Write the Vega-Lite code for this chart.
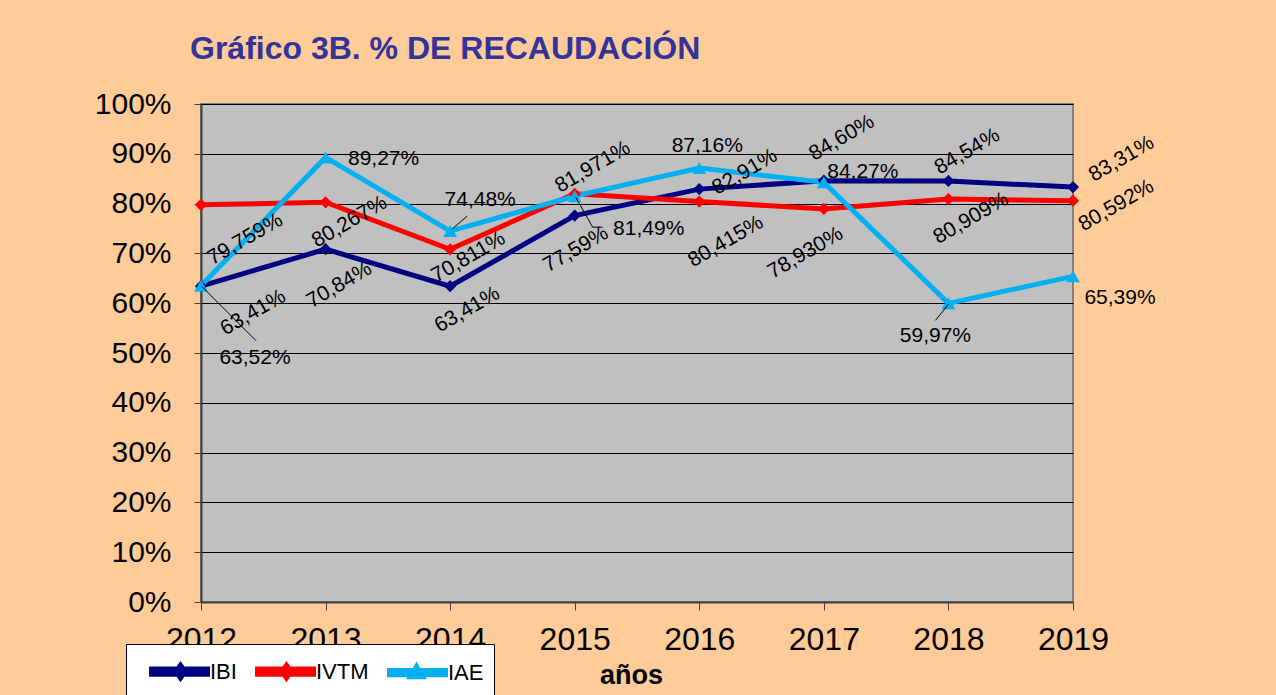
{
  "$schema": "https://vega.github.io/schema/vega-lite/v6.json",
  "width": 872,
  "height": 498,
  "autosize": {"type": "none"},
  "padding": {"left": 201, "top": 104, "right": 203, "bottom": 93},
  "background": "#FFCC99",
  "config": {
    "locale": {"number": {"decimal": ",", "thousands": ".", "grouping": [3], "currency": ["", " €"]}},
    "font": "Liberation Sans",
    "view": {"fill": "#C0C0C0", "stroke": "#808080", "strokeWidth": 2}
  },
  "title": {
    "text": "Gráfico 3B. % DE RECAUDACIÓN",
    "anchor": "start",
    "frame": "group",
    "dx": -11,
    "offset": 23,
    "fontSize": 32,
    "fontWeight": "bold",
    "color": "#333399",
    "font": "Liberation Sans"
  },
  "data": {
    "values": [
      {"serie": "IBI", "year": 2012, "value": 0.6341},
      {"serie": "IBI", "year": 2013, "value": 0.7084},
      {"serie": "IBI", "year": 2014, "value": 0.6341},
      {"serie": "IBI", "year": 2015, "value": 0.7759},
      {"serie": "IBI", "year": 2016, "value": 0.8291},
      {"serie": "IBI", "year": 2017, "value": 0.8460},
      {"serie": "IBI", "year": 2018, "value": 0.8454},
      {"serie": "IBI", "year": 2019, "value": 0.8331},
      {"serie": "IVTM", "year": 2012, "value": 0.79759},
      {"serie": "IVTM", "year": 2013, "value": 0.80267},
      {"serie": "IVTM", "year": 2014, "value": 0.70811},
      {"serie": "IVTM", "year": 2015, "value": 0.81971},
      {"serie": "IVTM", "year": 2016, "value": 0.80415},
      {"serie": "IVTM", "year": 2017, "value": 0.78930},
      {"serie": "IVTM", "year": 2018, "value": 0.80909},
      {"serie": "IVTM", "year": 2019, "value": 0.80592},
      {"serie": "IAE", "year": 2012, "value": 0.6352},
      {"serie": "IAE", "year": 2013, "value": 0.8927},
      {"serie": "IAE", "year": 2014, "value": 0.7448},
      {"serie": "IAE", "year": 2015, "value": 0.8149},
      {"serie": "IAE", "year": 2016, "value": 0.8716},
      {"serie": "IAE", "year": 2017, "value": 0.8427},
      {"serie": "IAE", "year": 2018, "value": 0.5997},
      {"serie": "IAE", "year": 2019, "value": 0.6539}
    ]
  },
  "encoding": {
    "x": {
      "field": "year", "type": "ordinal",
      "scale": {"type": "point", "padding": 0},
      "axis": {
        "labelAngle": 0, "labelFontSize": 32, "labelColor": "black", "labelFont": "Liberation Sans",
        "title": "años", "titleFontSize": 27, "titleFontWeight": "bold", "titleColor": "black", "titleFont": "Liberation Sans",
        "titlePadding": 7, "titleX": 430,
        "tickSize": 8, "tickColor": "#404040", "labelPadding": 14,
        "domainColor": "#404040", "domainWidth": 2, "grid": false
      }
    },
    "y": {
      "field": "value", "type": "quantitative",
      "scale": {"domain": [0, 1]},
      "axis": {
        "values": [0, 0.1, 0.2, 0.3, 0.4, 0.5, 0.6, 0.7, 0.8, 0.9, 1],
        "format": ".0%", "title": null,
        "labelFontSize": 30, "labelColor": "black", "labelFont": "Liberation Sans",
        "tickSize": 7, "tickColor": "#404040", "labelPadding": 23,
        "domainColor": "#404040", "domainWidth": 2,
        "grid": true, "gridColor": "black", "gridWidth": 1, "gridOpacity": 1
      }
    }
  },
  "layer": [
    {
      "mark": {"type": "line"},
      "encoding": {
        "color": {"field": "serie", "type": "nominal", "scale": {"domain": ["IBI", "IVTM", "IAE"], "range": ["#000080", "#FF0000", "#00B0F0"]},
          "legend": {"orient": "none", "legendX": -75, "legendY": 540, "direction": "horizontal", "title": null, "fillColor": "white", "strokeColor": "black", "padding": 10, "labelFontSize": 22, "labelColor": "black", "labelFont": "Liberation Sans", "labelOffset": 39, "symbolSize": 900, "symbolOpacity": 1, "columnPadding": 5, "symbolStrokeWidth": 0}},
        "strokeWidth": {"field": "serie", "type": "nominal", "scale": {"domain": ["IBI", "IVTM", "IAE"], "range": [5, 5, 4]}, "legend": null}
      }
    },
    {
      "transform": [{"filter": "datum.serie != 'IAE'"}],
      "mark": {"type": "point", "filled": true, "shape": "diamond", "size": 150, "opacity": 1},
      "encoding": {
        "color": {"field": "serie", "type": "nominal"}
      }
    },
    {
      "transform": [{"filter": "datum.serie == 'IAE'"}],
      "mark": {"type": "point", "filled": true, "shape": "triangle-up", "size": 190, "opacity": 1},
      "encoding": {
        "color": {"field": "serie", "type": "nominal"}
      }
    },
    {
      "mark": {"type": "point", "filled": true, "opacity": 0},
      "encoding": {
        "fill": {
          "field": "serie", "type": "nominal",
          "scale": {"domain": ["IBI", "IVTM", "IAE"], "range": ["#000080", "#FF0000", "#00B0F0"]},
          "legend": {"orient": "none", "legendX": -75, "legendY": 540, "direction": "horizontal", "title": null, "fillColor": "white", "strokeColor": "black", "padding": 10, "labelFontSize": 22, "labelColor": "black", "labelFont": "Liberation Sans", "labelOffset": 39, "symbolSize": 900, "symbolOpacity": 1, "columnPadding": 5, "symbolStrokeWidth": 0}
        },
        "shape": {
          "field": "serie", "type": "nominal",
          "scale": {"domain": ["IBI", "IVTM", "IAE"], "range": ["M-0.13,-0.17L3.6,-0.17L3.6,0.17L-0.13,0.17Z M1.8,-0.42L2.1,0L1.8,0.42L1.5,0Z", "M-0.13,-0.17L3.6,-0.17L3.6,0.17L-0.13,0.17Z M1.8,-0.42L2.1,0L1.8,0.42L1.5,0Z", "M-0.13,-0.14L3.6,-0.14L3.6,0.14L-0.13,0.14Z M1.67,-0.42L2.07,0.27L1.27,0.27Z"]},
          "legend": {"orient": "none", "legendX": -75, "legendY": 540, "direction": "horizontal", "title": null, "fillColor": "white", "strokeColor": "black", "padding": 10, "labelFontSize": 22, "labelColor": "black", "labelFont": "Liberation Sans", "labelOffset": 39, "symbolSize": 900, "symbolOpacity": 1, "columnPadding": 5, "symbolStrokeWidth": 0}
        }
      }
    },
    {"transform": [{"filter": "datum.serie=='IAE' && datum.year==2012"}], "mark": {"type": "point", "shape": "M1,1L55,55", "size": 4, "filled": false, "stroke": "black", "strokeWidth": 1, "opacity": 1}},
    {"transform": [{"filter": "datum.serie=='IAE' && datum.year==2014"}], "mark": {"type": "point", "shape": "M2,-2L17,-15", "size": 4, "filled": false, "stroke": "black", "strokeWidth": 1, "opacity": 1}},
    {"transform": [{"filter": "datum.serie=='IAE' && datum.year==2015"}], "mark": {"type": "point", "shape": "M1,1L18,31L28,31", "size": 4, "filled": false, "stroke": "black", "strokeWidth": 1, "opacity": 1}},
    {"transform": [{"filter": "datum.serie=='IAE' && datum.year==2018"}], "mark": {"type": "point", "shape": "M0,1L-13,17", "size": 4, "filled": false, "stroke": "black", "strokeWidth": 1, "opacity": 1}},
    {"transform": [{"filter": "datum.serie=='IBI' && datum.year==2012"}], "mark": {"type": "text", "fontSize": 21, "color": "black", "angle": 330, "dx": 32, "dy": 49}, "encoding": {"text": {"field": "value", "type": "quantitative", "format": ".2%"}}},
    {"transform": [{"filter": "datum.serie=='IBI' && datum.year==2013"}], "mark": {"type": "text", "fontSize": 21, "color": "black", "angle": 330, "dx": -6, "dy": 38}, "encoding": {"text": {"field": "value", "type": "quantitative", "format": ".2%"}}},
    {"transform": [{"filter": "datum.serie=='IBI' && datum.year==2014"}], "mark": {"type": "text", "fontSize": 21, "color": "black", "angle": 330, "dx": 3, "dy": 29}, "encoding": {"text": {"field": "value", "type": "quantitative", "format": ".2%"}}},
    {"transform": [{"filter": "datum.serie=='IBI' && datum.year==2015"}], "mark": {"type": "text", "fontSize": 21, "color": "black", "angle": 330, "dx": -16, "dy": 30}, "encoding": {"text": {"field": "value", "type": "quantitative", "format": ".2%"}}},
    {"transform": [{"filter": "datum.serie=='IBI' && datum.year==2016"}], "mark": {"type": "text", "fontSize": 21, "color": "black", "angle": 330, "dx": 48, "dy": 8}, "encoding": {"text": {"field": "value", "type": "quantitative", "format": ".2%"}}},
    {"transform": [{"filter": "datum.serie=='IBI' && datum.year==2017"}], "mark": {"type": "text", "fontSize": 21, "color": "black", "angle": 330, "dx": 37, "dy": -28}, "encoding": {"text": {"field": "value", "type": "quantitative", "format": ".2%"}}},
    {"transform": [{"filter": "datum.serie=='IBI' && datum.year==2018"}], "mark": {"type": "text", "fontSize": 21, "color": "black", "angle": 330, "dx": 31, "dy": -16}, "encoding": {"text": {"field": "value", "type": "quantitative", "format": ".2%"}}},
    {"transform": [{"filter": "datum.serie=='IBI' && datum.year==2019"}], "mark": {"type": "text", "fontSize": 21, "color": "black", "angle": 330, "dx": 56, "dy": 0}, "encoding": {"text": {"field": "value", "type": "quantitative", "format": ".2%"}}},
    {"transform": [{"filter": "datum.serie=='IVTM' && datum.year==2012"}], "mark": {"type": "text", "fontSize": 21, "color": "black", "angle": 330, "dx": 21, "dy": 52}, "encoding": {"text": {"field": "value", "type": "quantitative", "format": ".3%"}}},
    {"transform": [{"filter": "datum.serie=='IVTM' && datum.year==2013"}], "mark": {"type": "text", "fontSize": 21, "color": "black", "angle": 330, "dx": 11, "dy": 29}, "encoding": {"text": {"field": "value", "type": "quantitative", "format": ".3%"}}},
    {"transform": [{"filter": "datum.serie=='IVTM' && datum.year==2014"}], "mark": {"type": "text", "fontSize": 21, "color": "black", "angle": 330, "dx": 12, "dy": 16}, "encoding": {"text": {"field": "value", "type": "quantitative", "format": ".3%"}}},
    {"transform": [{"filter": "datum.serie=='IVTM' && datum.year==2015"}], "mark": {"type": "text", "fontSize": 21, "color": "black", "angle": 330, "dx": 29, "dy": -14}, "encoding": {"text": {"field": "value", "type": "quantitative", "format": ".3%"}}},
    {"transform": [{"filter": "datum.serie=='IVTM' && datum.year==2016"}], "mark": {"type": "text", "fontSize": 21, "color": "black", "angle": 330, "dx": 3, "dy": 48}, "encoding": {"text": {"field": "value", "type": "quantitative", "format": ".3%"}}},
    {"transform": [{"filter": "datum.serie=='IVTM' && datum.year==2017"}], "mark": {"type": "text", "fontSize": 21, "color": "black", "angle": 330, "dx": -38, "dy": 29}, "encoding": {"text": {"field": "value", "type": "quantitative", "format": ".3%"}}},
    {"transform": [{"filter": "datum.serie=='IVTM' && datum.year==2018"}], "mark": {"type": "text", "fontSize": 21, "color": "black", "angle": 330, "dx": 10, "dy": 28}, "encoding": {"text": {"field": "value", "type": "quantitative", "format": ".3%"}}},
    {"transform": [{"filter": "datum.serie=='IVTM' && datum.year==2019"}], "mark": {"type": "text", "fontSize": 21, "color": "black", "angle": 330, "dx": 35, "dy": 26}, "encoding": {"text": {"field": "value", "type": "quantitative", "format": ".3%"}}},
    {"transform": [{"filter": "datum.serie=='IAE' && datum.year==2012"}], "mark": {"type": "text", "fontSize": 21, "color": "black", "dx": 54, "dy": 72}, "encoding": {"text": {"field": "value", "type": "quantitative", "format": ".2%"}}},
    {"transform": [{"filter": "datum.serie=='IAE' && datum.year==2013"}], "mark": {"type": "text", "fontSize": 21, "color": "black", "dx": 58, "dy": 2}, "encoding": {"text": {"field": "value", "type": "quantitative", "format": ".2%"}}},
    {"transform": [{"filter": "datum.serie=='IAE' && datum.year==2014"}], "mark": {"type": "text", "fontSize": 21, "color": "black", "dx": 30, "dy": -31}, "encoding": {"text": {"field": "value", "type": "quantitative", "format": ".2%"}}},
    {"transform": [{"filter": "datum.serie=='IAE' && datum.year==2015"}], "mark": {"type": "text", "fontSize": 21, "color": "black", "dx": 74, "dy": 33}, "encoding": {"text": {"field": "value", "type": "quantitative", "format": ".2%"}}},
    {"transform": [{"filter": "datum.serie=='IAE' && datum.year==2016"}], "mark": {"type": "text", "fontSize": 21, "color": "black", "dx": 8, "dy": -22}, "encoding": {"text": {"field": "value", "type": "quantitative", "format": ".2%"}}},
    {"transform": [{"filter": "datum.serie=='IAE' && datum.year==2017"}], "mark": {"type": "text", "fontSize": 21, "color": "black", "dx": 39, "dy": -10}, "encoding": {"text": {"field": "value", "type": "quantitative", "format": ".2%"}}},
    {"transform": [{"filter": "datum.serie=='IAE' && datum.year==2018"}], "mark": {"type": "text", "fontSize": 21, "color": "black", "dx": -13, "dy": 33}, "encoding": {"text": {"field": "value", "type": "quantitative", "format": ".2%"}}},
    {"transform": [{"filter": "datum.serie=='IAE' && datum.year==2019"}], "mark": {"type": "text", "fontSize": 21, "color": "black", "dx": 47, "dy": 22}, "encoding": {"text": {"field": "value", "type": "quantitative", "format": ".2%"}}}
  ]
}
